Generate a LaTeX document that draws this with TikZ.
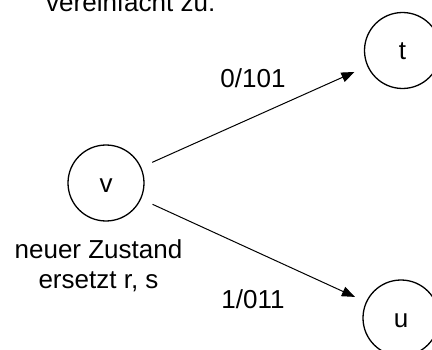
\documentclass[tikz,border=0pt]{standalone}
\usepackage{fontspec}
\setmainfont{Liberation Sans}
\usetikzlibrary{arrows.meta}
\begin{document}
\begin{tikzpicture}[x=1pt,y=1pt,
  state/.style={circle,draw,line width=1.3pt,minimum size=76pt,inner sep=0pt,
    font=\fontsize{26}{30}\selectfont,text height=23.5pt,text depth=5.5pt},
  lbl/.style={font=\fontsize{26}{30}\selectfont,inner sep=0pt},
  conn/.style={line width=1pt,-{Triangle[length=13pt,width=10pt]}}]
\useasboundingbox (0,0) rectangle (432,349);
\clip (0,0) rectangle (432,349);
\node[lbl,anchor=base west] (title) at (46,337) {vereinfacht zu:};
\node[state] (v) at (106,166) {v};
\node[state] (t) at (402.5,298.5) {t};
\node[state] (u) at (401,31) {u};
\draw[conn,shorten <=12pt,shorten >=14pt] (v) -- (t);
\draw[conn,shorten <=12.5pt,shorten >=12pt] (v) -- (u);
\node[lbl,anchor=base] (l1) at (253,261) {0/101};
\node[lbl,anchor=base] (l2) at (253,41) {1/011};
\node[lbl,align=center,anchor=base] (note) at (98.5,61) {neuer Zustand\\ersetzt r, s};
\end{tikzpicture}
\end{document}
